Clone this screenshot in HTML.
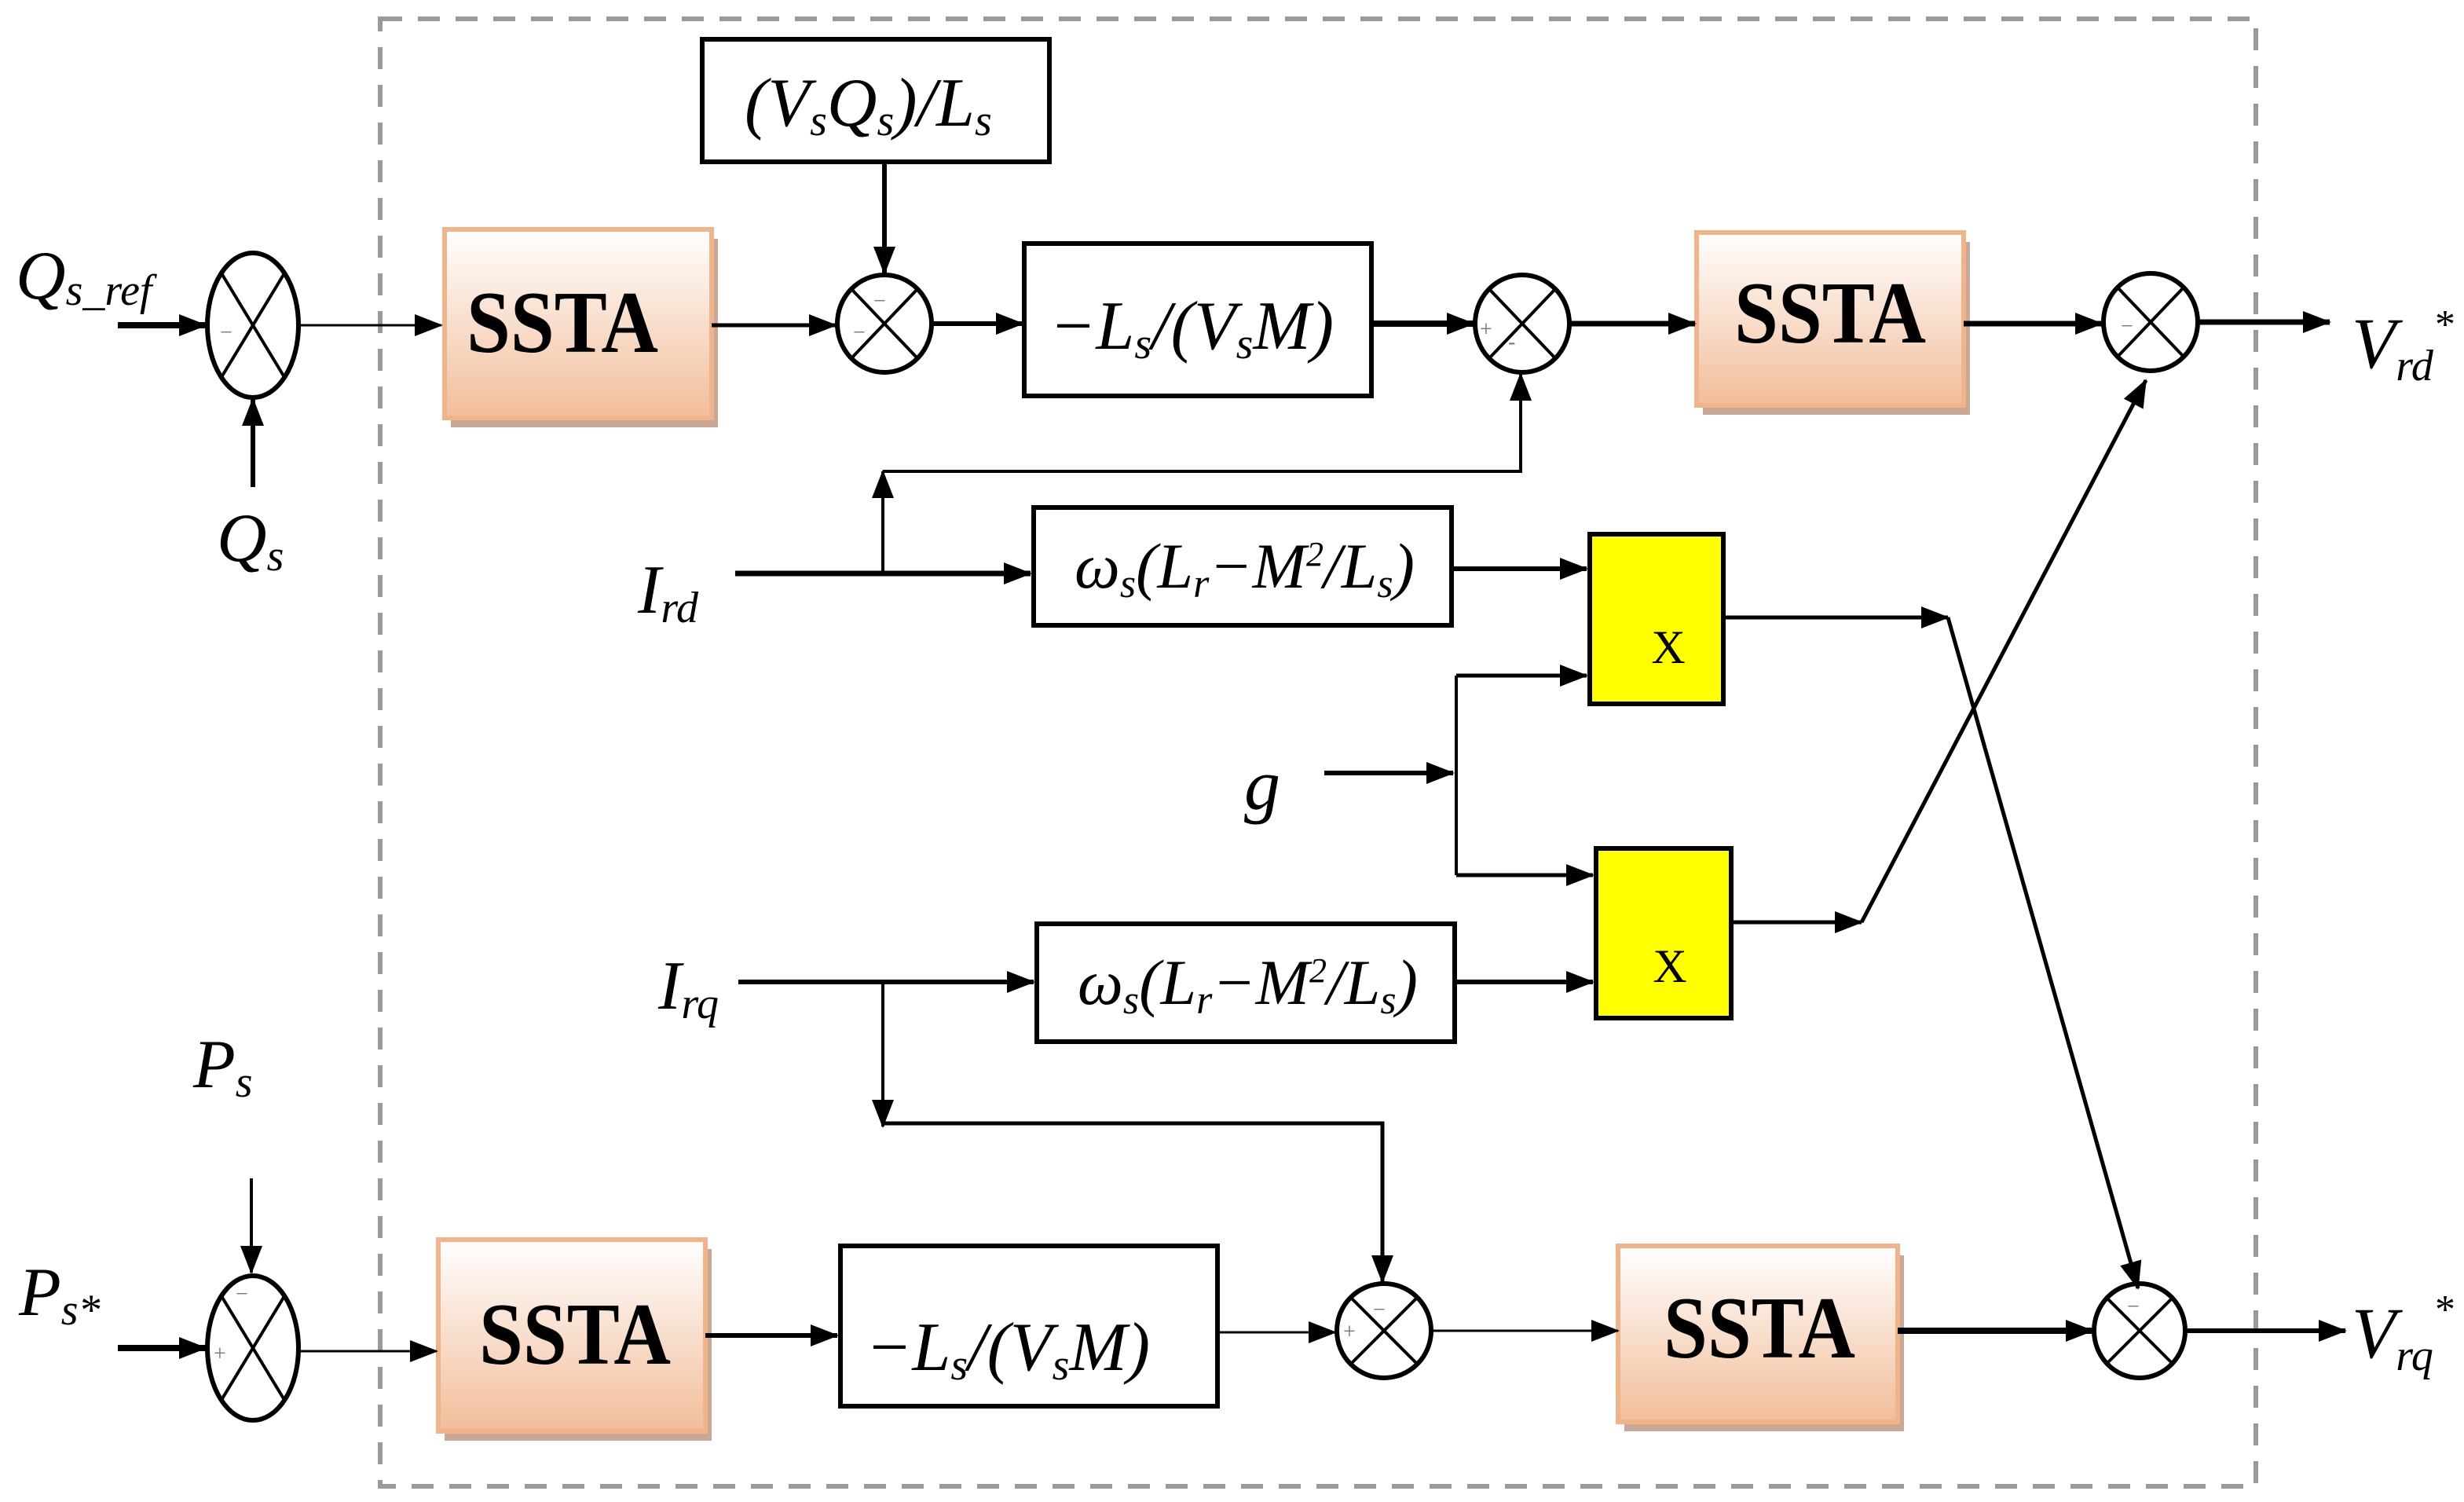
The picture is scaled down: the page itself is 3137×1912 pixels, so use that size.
<!DOCTYPE html>
<html><head><meta charset="utf-8"><style>
html,body{margin:0;padding:0;background:#fff;}
svg{display:block;}
text{font-family:"Liberation Serif",serif;}
.it{font-style:italic;}
.ssta{font-weight:bold;font-size:56px;}
</style></head><body>
<svg width="3137" height="1912" viewBox="0 0 1568.5 956" xmlns="http://www.w3.org/2000/svg">
<defs>
<marker id="b" markerWidth="18" markerHeight="18" refX="17" refY="9" orient="auto" markerUnits="userSpaceOnUse" viewBox="0 0 18 18"><path d="M0,2 L18,9 L0,16 z" fill="#000"/></marker>
<linearGradient id="g" x1="0" y1="0" x2="0" y2="1"><stop offset="0" stop-color="#fff"/><stop offset="1" stop-color="#f2bd9a"/></linearGradient>
</defs>
<rect x="242" y="12" width="1194" height="934" fill="none" stroke="#9a9a9a" stroke-width="3" stroke-dasharray="14,10"/>

<g fill="none" stroke="#000" stroke-width="3">
<ellipse cx="161" cy="207" rx="29" ry="46"/>
<ellipse cx="563" cy="206" rx="30" ry="31"/>
<ellipse cx="969" cy="206" rx="30" ry="31"/>
<ellipse cx="1369" cy="205" rx="30" ry="31"/>
<ellipse cx="161" cy="858" rx="29" ry="46"/>
<ellipse cx="881" cy="847" rx="30" ry="30"/>
<ellipse cx="1362" cy="847" rx="29" ry="30"/>
</g>
<g stroke="#000" stroke-width="2">
<line x1="141" y1="174" x2="181" y2="240"/><line x1="181" y1="174" x2="141" y2="240"/>
<line x1="542" y1="184" x2="584" y2="228"/><line x1="584" y1="184" x2="542" y2="228"/>
<line x1="948" y1="184" x2="990" y2="228"/><line x1="990" y1="184" x2="948" y2="228"/>
<line x1="1348" y1="183" x2="1390" y2="227"/><line x1="1390" y1="183" x2="1348" y2="227"/>
<line x1="141" y1="825" x2="181" y2="891"/><line x1="181" y1="825" x2="141" y2="891"/>
<line x1="860" y1="826" x2="902" y2="868"/><line x1="902" y1="826" x2="860" y2="868"/>
<line x1="1341" y1="826" x2="1383" y2="868"/><line x1="1383" y1="826" x2="1341" y2="868"/>
</g>
<g fill="#777" font-size="14">
<text x="140" y="216">−</text><text x="556" y="196">−</text><text x="543" y="216">−</text>
<text x="942" y="214">+</text><text x="960" y="222">-</text><text x="1350" y="212">−</text>
<text x="150" y="828">−</text><text x="136" y="866">+</text>
<text x="874" y="838">−</text><text x="855" y="852">+</text><text x="1354" y="836">−</text>
</g>

<g>
<rect x="287" y="152" width="170" height="120" fill="#c9a898"/>
<rect x="283" y="146" width="170" height="120" fill="url(#g)" stroke="#f0b48a" stroke-width="3"/>
<rect x="1084" y="154" width="170" height="110" fill="#c9a898"/>
<rect x="1080" y="148" width="170" height="110" fill="url(#g)" stroke="#f0b48a" stroke-width="3"/>
<rect x="283" y="795" width="170" height="122" fill="#c9a898"/>
<rect x="279" y="789" width="170" height="122" fill="url(#g)" stroke="#f0b48a" stroke-width="3"/>
<rect x="1034" y="799" width="178" height="112" fill="#c9a898"/>
<rect x="1030" y="793" width="178" height="112" fill="url(#g)" stroke="#f0b48a" stroke-width="3"/>
</g>
<g fill="none" stroke="#000" stroke-width="3">
<rect x="447" y="25" width="221" height="78" fill="#fff"/>
<rect x="652" y="155" width="221" height="97"/>
<rect x="658" y="323" width="266" height="75"/>
<rect x="660" y="588" width="266" height="75"/>
<rect x="535" y="793" width="240" height="102"/>
<rect x="1012" y="340" width="85" height="108" fill="#ffff00"/>
<rect x="1016" y="540" width="86" height="108" fill="#ffff00"/>
</g>

<g fill="none" stroke="#000">
<line x1="75" y1="207" x2="131" y2="207" stroke-width="4" marker-end="url(#b)"/>
<line x1="161" y1="310" x2="161" y2="254" stroke-width="3" marker-end="url(#b)"/>
<line x1="191" y1="207" x2="281" y2="207" stroke-width="1.5" marker-end="url(#b)"/>
<line x1="453" y1="207" x2="532" y2="207" stroke-width="2.5" marker-end="url(#b)"/>
<line x1="563" y1="103" x2="563" y2="174" stroke-width="3" marker-end="url(#b)"/>
<line x1="593" y1="206" x2="651" y2="206" stroke-width="3" marker-end="url(#b)"/>
<line x1="873" y1="206" x2="938" y2="206" stroke-width="4" marker-end="url(#b)"/>
<line x1="999" y1="206" x2="1079" y2="206" stroke-width="3.5" marker-end="url(#b)"/>
<line x1="1250" y1="206" x2="1338" y2="206" stroke-width="3.5" marker-end="url(#b)"/>
<line x1="1399" y1="205" x2="1483" y2="205" stroke-width="3.5" marker-end="url(#b)"/>
<line x1="468" y1="365" x2="656" y2="365" stroke-width="3.5" marker-end="url(#b)"/>
<polyline points="562,365 562,300" stroke-width="2" marker-end="url(#b)"/>
<polyline points="562,300 968,300 968,238" stroke-width="2" marker-end="url(#b)"/>
<line x1="924" y1="362" x2="1010" y2="362" stroke-width="3" marker-end="url(#b)"/>
<polyline points="1097,393 1240,393" stroke-width="2.5" marker-end="url(#b)"/>
<line x1="1240" y1="393" x2="1361" y2="820" stroke-width="2.5" marker-end="url(#b)"/>
<line x1="843" y1="492" x2="925" y2="492" stroke-width="3" marker-end="url(#b)"/>
<line x1="927" y1="430" x2="927" y2="557" stroke-width="2"/>
<line x1="927" y1="430" x2="1010" y2="430" stroke-width="2.5" marker-end="url(#b)"/>
<line x1="927" y1="557" x2="1014" y2="557" stroke-width="2.5" marker-end="url(#b)"/>
<polyline points="1102,587 1185,587" stroke-width="2.5" marker-end="url(#b)"/>
<line x1="1185" y1="587" x2="1366" y2="242" stroke-width="2.5" marker-end="url(#b)"/>
<line x1="470" y1="625" x2="658" y2="625" stroke-width="3" marker-end="url(#b)"/>
<line x1="926" y1="625" x2="1014" y2="625" stroke-width="3" marker-end="url(#b)"/>
<line x1="562" y1="625" x2="562" y2="717" stroke-width="2" marker-end="url(#b)"/>
<polyline points="562,715 880,715 880,816" stroke-width="2.5" marker-end="url(#b)"/>
<line x1="160" y1="750" x2="160" y2="810" stroke-width="2" marker-end="url(#b)"/>
<line x1="75" y1="858" x2="131" y2="858" stroke-width="4" marker-end="url(#b)"/>
<line x1="190" y1="860" x2="278" y2="860" stroke-width="1.5" marker-end="url(#b)"/>
<line x1="449" y1="850" x2="533" y2="850" stroke-width="3" marker-end="url(#b)"/>
<line x1="775" y1="848" x2="850" y2="848" stroke-width="1.5" marker-end="url(#b)"/>
<line x1="911" y1="847" x2="1030" y2="847" stroke-width="1.5" marker-end="url(#b)"/>
<line x1="1208" y1="847" x2="1332" y2="847" stroke-width="4" marker-end="url(#b)"/>
<line x1="1391" y1="847" x2="1493" y2="847" stroke-width="3" marker-end="url(#b)"/>
</g>

<g fill="#000">
<text class="ssta" x="358" y="224" text-anchor="middle" textLength="122" lengthAdjust="spacingAndGlyphs">SSTA</text>
<text class="ssta" x="1165" y="218" text-anchor="middle" textLength="122" lengthAdjust="spacingAndGlyphs">SSTA</text>
<text class="ssta" x="366" y="868" text-anchor="middle" textLength="122" lengthAdjust="spacingAndGlyphs">SSTA</text>
<text class="ssta" x="1120" y="864" text-anchor="middle" textLength="122" lengthAdjust="spacingAndGlyphs">SSTA</text>
<text class="it" x="474" y="80" font-size="44">(<tspan>V</tspan><tspan font-size="28" dy="6">s</tspan><tspan dy="-6">Q</tspan><tspan font-size="28" dy="6">s</tspan><tspan dy="-6">)/L</tspan><tspan font-size="28" dy="6">s</tspan></text>
<text class="it" x="668" y="222" font-size="44">−L<tspan font-size="28" dy="6">s</tspan><tspan dy="-6">/(V</tspan><tspan font-size="28" dy="6">s</tspan><tspan dy="-6">M)</tspan></text>
<text class="it" x="551" y="872" font-size="44">−L<tspan font-size="28" dy="6">s</tspan><tspan dy="-6">/(V</tspan><tspan font-size="28" dy="6">s</tspan><tspan dy="-6">M)</tspan></text>
<text class="it" x="684" y="374" font-size="41">ω<tspan font-size="26" dy="6">s</tspan><tspan dy="-6">(L</tspan><tspan font-size="26" dy="6">r</tspan><tspan dy="-6">−M</tspan><tspan font-size="22" dy="-14">2</tspan><tspan dy="14">/L</tspan><tspan font-size="26" dy="6">s</tspan><tspan dy="-6">)</tspan></text>
<text class="it" x="686" y="639" font-size="41">ω<tspan font-size="26" dy="6">s</tspan><tspan dy="-6">(L</tspan><tspan font-size="26" dy="6">r</tspan><tspan dy="-6">−M</tspan><tspan font-size="22" dy="-14">2</tspan><tspan dy="14">/L</tspan><tspan font-size="26" dy="6">s</tspan><tspan dy="-6">)</tspan></text>
<text x="1062" y="422" font-size="30" text-anchor="middle">X</text>
<text x="1063" y="625" font-size="30" text-anchor="middle">X</text>
<text class="it" x="10" y="190" font-size="44">Q<tspan font-size="28" dy="4">s_ref</tspan></text>
<text class="it" x="138" y="357" font-size="44">Q<tspan font-size="28" dy="6">s</tspan></text>
<text class="it" x="406" y="390" font-size="44">I<tspan font-size="28" dy="6">rd</tspan></text>
<text class="it" x="419" y="642" font-size="44">I<tspan font-size="28" dy="6">rq</tspan></text>
<text class="it" x="792" y="515" font-size="46">g</text>
<text class="it" x="123" y="692" font-size="44">P<tspan font-size="28" dy="6">s</tspan></text>
<text class="it" x="12" y="837" font-size="44">P<tspan font-size="28" dy="6">s*</tspan></text>
<text class="it" x="1497" y="234" font-size="46">V<tspan font-size="28" dy="8">rd</tspan></text>
<text x="1550" y="215" font-size="26">*</text>
<text class="it" x="1497" y="864" font-size="46">V<tspan font-size="28" dy="8">rq</tspan></text>
<text x="1550" y="842" font-size="26">*</text>
</g>
</svg>
</body></html>
